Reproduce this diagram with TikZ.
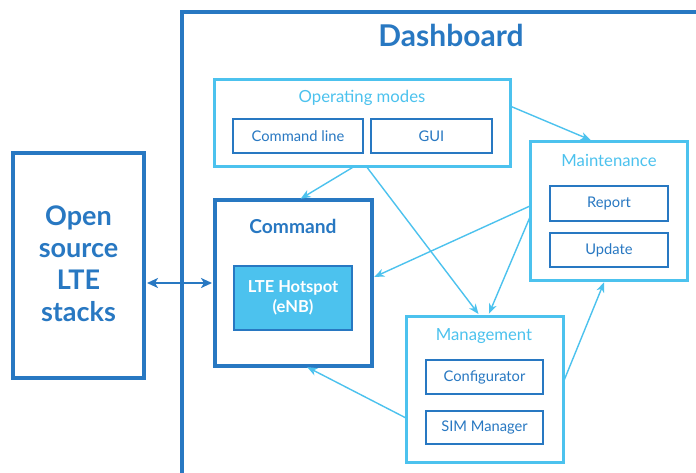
\documentclass[tikz,border=0pt]{standalone}
\usepackage{fontspec}
\setmainfont{Lato}
\usetikzlibrary{arrows.meta,calc}
\definecolor{dblue}{HTML}{2878C2}
\definecolor{lblue}{HTML}{4CC2EE}
\begin{document}
\begin{tikzpicture}[x=1pt,y=-1pt,
  frame/.style={draw, rectangle, inner sep=0pt, outer sep=0pt, align=center},
  outerbox/.style={frame, draw=lblue, line width=3pt},
  innerbox/.style={frame, draw=dblue, line width=2pt, text=dblue, font=\fontsize{14.7}{17}\selectfont},
  boxtitle/.style={text=lblue, inner sep=0pt, font=\fontsize{16.7}{19}\selectfont},
  conn/.style={draw=lblue, line width=1.4pt, -{Stealth[length=10pt,width=8pt,inset=3pt]}, shorten >=2.5pt},
  link/.style={draw=dblue, line width=2.5pt, {Stealth[length=11pt,width=10pt,inset=3pt]}-{Stealth[length=11pt,width=10pt,inset=3pt]}, shorten >=3pt, shorten <=3pt}]
\useasboundingbox (0,0) rectangle (696,472);
\fill[white] (0,0) rectangle (696,472);

% Dashboard frame (extends beyond the picture)
\draw[dblue, line width=4pt] (182,480) -- (182,12) -- (700,12);
\node[text=dblue, inner sep=0pt, font=\fontsize{30}{34}\bfseries\selectfont] (dashtitle) at (451,35) {Dashboard};

% Open source LTE stacks
\node[frame, draw=dblue, line width=4pt, minimum width=131pt, minimum height=225pt] (stacks) at (78.5,265.5) {};
\node[text=dblue, align=center, inner sep=0pt, font=\fontsize{27}{32}\bfseries\selectfont] (stackstext) at (78.5,264) {Open\\source\\LTE\\stacks};

% Operating modes
\node[outerbox, minimum width=296pt, minimum height=87pt] (opm) at (362,122.5) {};
\node[boxtitle] (opmtitle) at (362,98) {Operating modes};
\node[innerbox, minimum width=130pt, minimum height=34pt] (cmdline) at (298,136) {Command line};
\node[innerbox, minimum width=121pt, minimum height=34pt] (gui) at (431.5,136) {GUI};

% Maintenance
\node[outerbox, minimum width=157pt, minimum height=139pt] (maint) at (608.5,210.5) {};
\node[boxtitle] (mainttitle) at (609,160) {Maintenance};
\node[innerbox, minimum width=118pt, minimum height=35pt] (report) at (609,203.5) {Report};
\node[innerbox, minimum width=118pt, minimum height=34pt] (update) at (609,250) {Update};

% Command
\node[frame, draw=dblue, line width=3.5pt, minimum width=157pt, minimum height=166pt] (cmd) at (293.5,283) {};
\node[text=dblue, inner sep=0pt, font=\fontsize{19.2}{22}\bfseries\selectfont] (cmdtitle) at (293,226) {Command};
\node[frame, draw=dblue, fill=lblue, line width=2.5pt, minimum width=118pt, minimum height=64pt, text=white, font=\fontsize{16.5}{20}\bfseries\selectfont] (hotspot) at (293,298) {LTE Hotspot\\(eNB)};

% Management
\node[outerbox, minimum width=157pt, minimum height=146pt] (mgmt) at (484.5,389) {};
\node[boxtitle] (mgmttitle) at (484,336) {Management};
\node[innerbox, minimum width=117pt, minimum height=34pt] (config) at (484.5,377) {Configurator};
\node[innerbox, minimum width=117pt, minimum height=33pt] (sim) at (484.5,427.5) {SIM Manager};

% Connectors
\draw[link] ([yshift=-17.5pt]stacks.east) -- (cmd.west);
\draw[conn] ([xshift=-7pt]opm.south) -- ([xshift=5pt]cmd.north);
\draw[conn] ([xshift=4pt]opm.south) -- ([xshift=-4.5pt]mgmt.north);
\draw[conn] ([yshift=16.5pt]opm.east) -- ([xshift=-15.5pt]maint.north);
\draw[conn] ([yshift=4.5pt]maint.west) -- ([yshift=5pt]cmd.east);
\draw[conn] ([yshift=-6.5pt]maint.west) -- ([xshift=3.5pt]mgmt.north);
\draw[conn] ([yshift=-29pt]mgmt.west) -- ([xshift=11.5pt]cmd.south);
\draw[conn] ([yshift=6pt]mgmt.east) -- ([xshift=-3.5pt]maint.south);
\end{tikzpicture}
\end{document}
